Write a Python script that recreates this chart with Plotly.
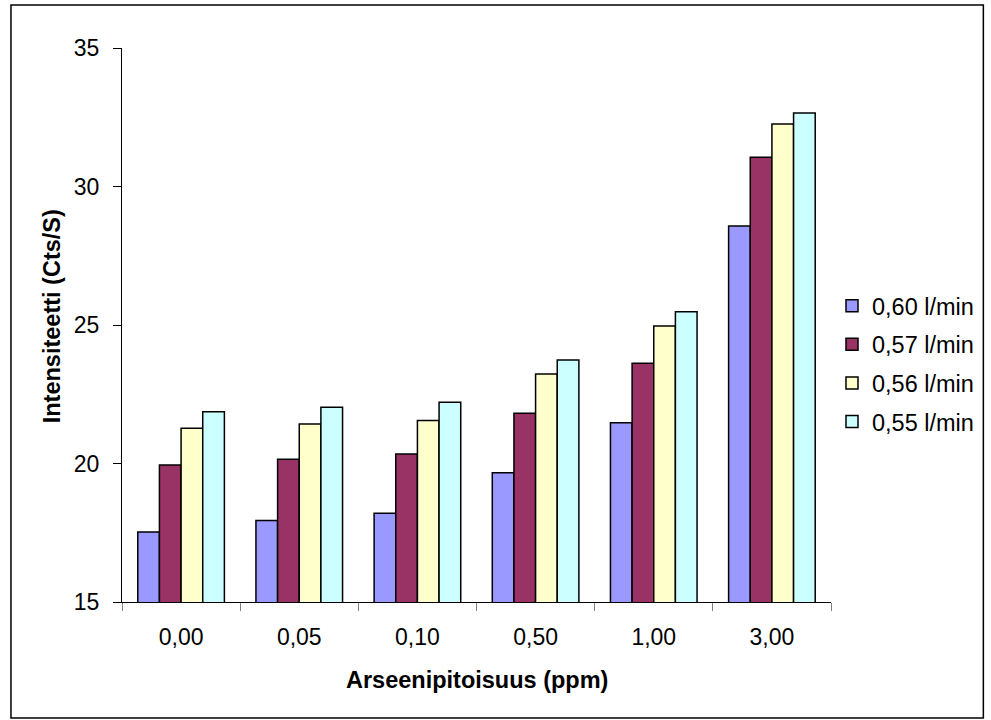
import plotly.graph_objects as go

categories = ["0,00", "0,05", "0,10", "0,50", "1,00", "3,00"]
series_names = ["0,60 l/min", "0,57 l/min", "0,56 l/min", "0,55 l/min"]
s060 = [17.53, 17.94, 18.20, 19.67, 21.47, 28.57]
s057 = [19.95, 20.15, 20.34, 21.81, 23.62, 31.06]
s056 = [21.27, 21.43, 21.55, 23.23, 24.96, 32.26]
s055 = [21.87, 22.03, 22.21, 23.74, 25.48, 32.65]
series_values = [s060, s057, s056, s055]
colors = ["#9999FF", "#993366", "#FFFFCC", "#CCFFFF"]

FONT = "Liberation Sans, Arial, sans-serif"
FS = 23
FT = 23.5

fig = go.Figure()
for i, (name, vals, col) in enumerate(zip(series_names, series_values, colors)):
    fig.add_trace(go.Bar(
        x=categories, y=vals, name=name,
        marker=dict(color=col, line=dict(color="black", width=1.5)),
        legendgroup=f"g{i}",
    ))

L, R, T, B = 122, 157, 48, 118
W, H = 991, 720
pw, ph = W - L - R, H - T - B

fig.update_layout(
    width=W, height=H,
    margin=dict(l=L, r=R, t=T, b=B, pad=0),
    paper_bgcolor="white", plot_bgcolor="white",
    barmode="group", bargap=0.267, bargroupgap=0,
    font=dict(family=FONT, size=FS, color="black"),
    legend=dict(
        x=(835 - L) / pw, xanchor="left",
        y=(602 - 364) / ph, yanchor="middle",
        font=dict(family=FONT, size=FT, color="black"),
        tracegroupgap=5, bgcolor="rgba(0,0,0,0)",
        itemclick=False,
    ),
    showlegend=True,
)
fig.update_xaxes(
    type="category", showline=True, linecolor="black", linewidth=1,
    ticks="outside", ticklen=8, tickcolor="#808080", tickwidth=1,
    tickson="boundaries", showgrid=False, ticklabelstandoff=14,
    tickfont=dict(family=FONT, size=FS, color="black"),
)
fig.update_yaxes(
    range=[15, 35], dtick=5, showline=True, linecolor="black", linewidth=1,
    ticks="outside", ticklen=8, tickcolor="black", tickwidth=1,
    showgrid=False, zeroline=False, ticklabelstandoff=9,
    tickfont=dict(family=FONT, size=FS, color="black"),
)

fig.add_annotation(
    text="<b>Arseenipitoisuus (ppm)</b>", xref="paper", yref="paper",
    x=0.5, y=(602 - 680) / ph, xanchor="center", yanchor="middle",
    showarrow=False, font=dict(family=FONT, size=FT, color="black"),
)
fig.add_annotation(
    text="<b>Intensiteetti (Cts/S)</b>", xref="paper", yref="paper",
    x=(52 - L) / pw, y=(602 - 316) / ph, xanchor="center", yanchor="middle",
    textangle=-90, showarrow=False, font=dict(family=FONT, size=FT, color="black"),
)
fig.add_shape(
    type="rect", xref="paper", yref="paper",
    x0=(10.5 - L) / pw, x1=(987 - L) / pw,
    y0=(602 - 718) / ph, y1=(602 - 5) / ph,
    line=dict(color="black", width=1.5), fillcolor="rgba(0,0,0,0)",
)

fig.write_html("out.html")
